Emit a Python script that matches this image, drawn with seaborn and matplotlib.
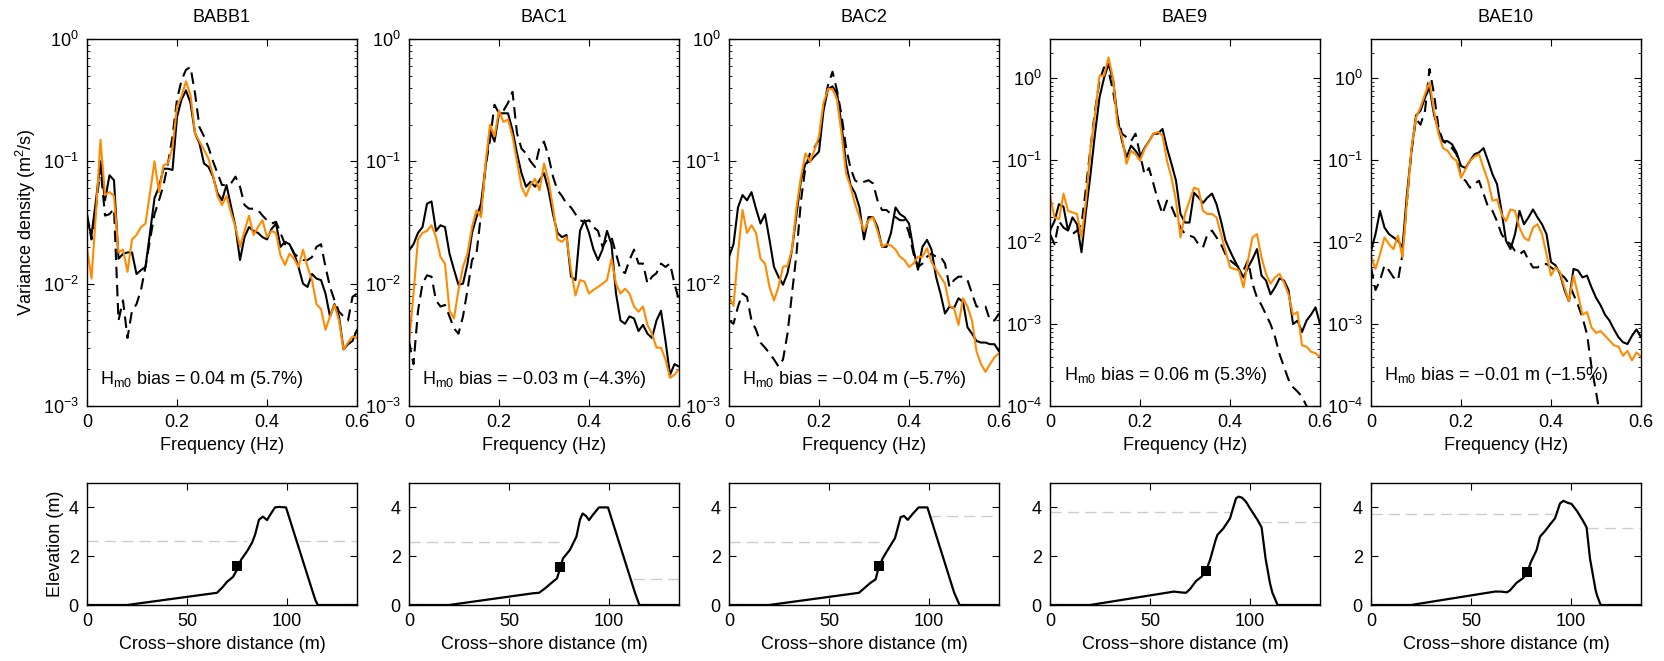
import numpy as np
import pandas as pd
import matplotlib
matplotlib.use('Agg')
import matplotlib.pyplot as plt
import seaborn as sns
from matplotlib.ticker import LogLocator, NullFormatter, FixedLocator, FixedFormatter

# ---------------- data ----------------
STATIONS = ["BABB1", "BAC1", "BAC2", "BAE9", "BAE10"]
FREQ = [round(i * 0.01, 2) for i in range(61)]

BABB1_OBS = [0.033,0.025,0.048,0.10,0.048,0.077,0.07,0.016,0.0175,0.018,0.018,
             0.012,0.0129,0.0137,0.026,0.05,0.062,0.087,0.087,0.085,0.23,
             0.32,0.38,0.30,0.17,0.14,0.096,0.09,0.075,0.055,0.048,
             0.064,0.043,0.029,0.0156,0.024,0.029,0.027,0.026,0.024,0.023,
             0.028,0.031,0.020,0.022,0.021,0.0178,0.0137,0.010,0.0094,0.012,
             0.011,0.0107,0.0083,0.0054,0.0068,0.0054,0.0029,0.0032,0.0034,0.0042]
BABB1_MOD = [0.0194,0.011,0.038,0.15,0.053,0.056,0.052,0.018,0.019,0.0125,0.023,
             0.025,0.029,0.031,0.055,0.10,0.056,0.093,0.096,0.13,0.28,
             0.34,0.45,0.35,0.17,0.145,0.124,0.105,0.077,0.052,0.044,
             0.052,0.038,0.029,0.020,0.027,0.036,0.025,0.029,0.033,0.024,
             0.027,0.026,0.017,0.0142,0.0176,0.016,0.0137,0.019,0.0137,0.0107,
             0.0068,0.0062,0.0042,0.0054,0.0067,0.005,0.0029,0.0033,0.0037,0.0036]
BABB1_OFF = [0.037,0.023,0.042,0.09,0.036,0.037,0.041,0.005,0.0073,0.0036,0.006,
             0.0068,0.0089,0.0137,0.0228,0.037,0.048,0.064,0.096,0.16,0.32,
             0.46,0.56,0.59,0.36,0.19,0.16,0.13,0.10,0.08,0.064,
             0.064,0.066,0.075,0.062,0.044,0.041,0.041,0.04,0.036,0.033,
             0.031,0.032,0.026,0.021,0.021,0.0176,0.0165,0.0156,0.0156,0.0165,
             0.020,0.021,0.0137,0.0094,0.0073,0.0059,0.0054,0.005,0.0078,0.0083]

BAC1_OBS = [0.0187,0.021,0.026,0.029,0.045,0.047,0.027,0.03,0.029,0.0176,0.013,
            0.0098,0.01,0.0146,0.026,0.035,0.045,0.09,0.18,0.145,0.247,
            0.247,0.247,0.18,0.116,0.08,0.062,0.068,0.062,0.07,0.08,
            0.058,0.037,0.026,0.024,0.025,0.0114,0.0107,0.027,0.033,0.026,
            0.019,0.0156,0.019,0.027,0.021,0.0083,0.005,0.0047,0.0054,0.0052,
            0.0041,0.0046,0.0039,0.0036,0.005,0.006,0.0034,0.0018,0.0022,0.0021]
BAC1_MOD = [0.0032,0.0083,0.023,0.026,0.027,0.030,0.024,0.0165,0.0146,0.006,0.0052,
            0.0089,0.0137,0.0176,0.029,0.040,0.035,0.096,0.20,0.16,0.26,
            0.21,0.22,0.16,0.10,0.062,0.052,0.064,0.072,0.058,0.096,
            0.07,0.042,0.023,0.022,0.024,0.013,0.008,0.0107,0.0104,0.0083,
            0.0089,0.0094,0.01,0.0107,0.016,0.01,0.0083,0.0091,0.0083,0.0065,
            0.0059,0.0065,0.0046,0.0039,0.003,0.003,0.0024,0.0017,0.0018,0.002]
BAC1_OFF = [0.0034,0.0022,0.006,0.01,0.0117,0.0114,0.0073,0.0065,0.0067,0.0054,0.0043,
            0.0039,0.0054,0.0089,0.0156,0.0176,0.037,0.09,0.15,0.29,0.247,
            0.26,0.30,0.37,0.17,0.127,0.116,0.10,0.09,0.13,0.145,
            0.11,0.075,0.058,0.052,0.045,0.042,0.037,0.033,0.032,0.033,
            0.029,0.027,0.020,0.023,0.024,0.0176,0.013,0.0122,0.0156,0.019,
            0.0146,0.0146,0.01,0.0114,0.0122,0.0146,0.0137,0.0146,0.01,0.0073]

BAC2_OBS = [0.0166,0.021,0.042,0.053,0.048,0.056,0.041,0.031,0.037,0.0228,0.0137,
            0.0114,0.0098,0.0122,0.019,0.037,0.07,0.096,0.10,0.11,0.12,
            0.26,0.39,0.41,0.36,0.2,0.096,0.064,0.055,0.042,0.023,
            0.035,0.035,0.029,0.020,0.020,0.026,0.042,0.037,0.035,0.031,
            0.019,0.013,0.020,0.0228,0.019,0.0114,0.0083,0.0057,0.0065,0.0063,
            0.0076,0.0071,0.0044,0.0039,0.0034,0.0033,0.0033,0.0032,0.0032,0.0028]
BAC2_MOD = [0.0078,0.0066,0.0176,0.04,0.026,0.03,0.026,0.016,0.0146,0.0094,0.0073,
            0.0094,0.0137,0.014,0.019,0.042,0.075,0.116,0.10,0.124,0.16,
            0.30,0.39,0.39,0.32,0.17,0.08,0.062,0.045,0.035,0.027,
            0.033,0.035,0.027,0.020,0.021,0.0205,0.019,0.0166,0.0156,0.0137,
            0.0146,0.0166,0.0166,0.0195,0.015,0.013,0.0114,0.01,0.0066,0.0063,
            0.0046,0.0076,0.0065,0.005,0.0028,0.0022,0.0019,0.0022,0.0025,0.0027]
BAC2_OFF = [0.005,0.0047,0.0065,0.0083,0.0078,0.005,0.0042,0.0033,0.003,0.0027,0.0024,
            0.0021,0.0024,0.0039,0.0083,0.0176,0.048,0.09,0.116,0.13,0.15,
            0.28,0.42,0.54,0.38,0.24,0.13,0.088,0.07,0.066,0.068,
            0.07,0.066,0.048,0.04,0.04,0.037,0.035,0.033,0.033,0.026,
            0.0176,0.0137,0.0146,0.0166,0.0176,0.0166,0.0166,0.0146,0.0094,0.0107,
            0.0114,0.0114,0.0107,0.0083,0.0065,0.0065,0.0065,0.005,0.005,0.0057]

BAE9_OBS = [0.0138,0.018,0.029,0.027,0.0138,0.02,0.0165,0.0075,0.024,0.067,0.21,
            0.58,1.0,1.48,0.97,0.33,0.17,0.108,0.15,0.13,0.108,
            0.14,0.17,0.21,0.21,0.24,0.14,0.09,0.056,0.022,0.0173,
            0.0173,0.04,0.035,0.03,0.035,0.039,0.029,0.018,0.0104,0.0078,
            0.006,0.0047,0.0037,0.0049,0.0062,0.0082,0.0039,0.0034,0.0023,0.0028,
            0.0036,0.0034,0.0026,0.001,0.0011,0.0008,0.0011,0.0013,0.0016,0.001]
BAE9_MOD = [0.037,0.02,0.019,0.039,0.024,0.023,0.022,0.0114,0.032,0.14,0.36,
            1.07,1.07,1.79,1.0,0.27,0.19,0.09,0.13,0.118,0.098,
            0.136,0.17,0.21,0.22,0.2,0.098,0.061,0.032,0.0114,0.022,
            0.032,0.046,0.044,0.024,0.022,0.022,0.02,0.0125,0.0078,0.0049,
            0.0047,0.0045,0.0028,0.006,0.0114,0.0125,0.0065,0.0041,0.0031,0.0037,
            0.0041,0.0032,0.0023,0.0013,0.0014,0.00055,0.00053,0.00046,0.00044,0.0004]
BAE9_OFF = [0.0125,0.0094,0.018,0.015,0.0138,0.0125,0.0138,0.0165,0.046,0.14,0.4,
            0.93,1.35,1.23,0.7,0.33,0.21,0.19,0.17,0.21,0.118,
            0.067,0.08,0.051,0.032,0.022,0.032,0.027,0.02,0.015,0.0125,
            0.012,0.0114,0.0094,0.0086,0.0125,0.0138,0.0114,0.0094,0.0071,0.006,
            0.0054,0.0049,0.0045,0.006,0.0031,0.0021,0.0017,0.0013,0.001,0.0007,
            0.00043,0.0003,0.00021,0.00017,0.00015,0.00013,0.0001,0.00008,0.00006,0.00005]

BAE10_OBS = [0.0078,0.0125,0.024,0.015,0.0125,0.0114,0.0104,0.0086,0.039,0.13,0.35,
             0.4,0.58,0.77,0.36,0.23,0.17,0.17,0.156,0.124,0.085,
             0.08,0.098,0.118,0.124,0.14,0.098,0.067,0.051,0.024,0.0104,
             0.0082,0.0125,0.024,0.0165,0.02,0.025,0.02,0.0165,0.0125,0.0057,
             0.0052,0.0041,0.0026,0.0019,0.0047,0.0045,0.0037,0.0039,0.0028,0.0021,
             0.0017,0.0013,0.0011,0.00086,0.00069,0.0006,0.00057,0.00072,0.00086,0.00069]
BAE10_MOD = [0.0068,0.0047,0.0071,0.0114,0.0094,0.0082,0.012,0.0065,0.032,0.14,0.33,
             0.44,0.64,0.89,0.4,0.21,0.14,0.13,0.108,0.098,0.061,
             0.077,0.098,0.11,0.118,0.08,0.056,0.032,0.033,0.022,0.018,
             0.025,0.024,0.015,0.0114,0.0104,0.015,0.0165,0.0125,0.0071,0.0039,
             0.0049,0.0043,0.0028,0.0019,0.0039,0.0023,0.0013,0.0014,0.00091,0.00078,
             0.00082,0.00072,0.00063,0.00055,0.00053,0.00041,0.00047,0.00036,0.00045,0.0004]
BAE10_OFF = [0.0049,0.0026,0.0034,0.0052,0.0045,0.0037,0.0034,0.0071,0.032,0.13,0.32,
             0.27,0.4,1.29,0.64,0.25,0.17,0.156,0.14,0.118,0.061,
             0.056,0.046,0.051,0.056,0.039,0.027,0.024,0.018,0.0125,0.0104,
             0.0094,0.0078,0.0071,0.0078,0.006,0.0049,0.0049,0.0054,0.0054,0.0049,
             0.0045,0.0041,0.0037,0.0031,0.0023,0.0017,0.0012,0.00075,0.0003,0.00015,
             0.00007]

OBS = [BABB1_OBS, BAC1_OBS, BAC2_OBS, BAE9_OBS, BAE10_OBS]
MOD = [BABB1_MOD, BAC1_MOD, BAC2_MOD, BAE9_MOD, BAE10_MOD]
OFF = [BABB1_OFF, BAC1_OFF, BAC2_OFF, BAE9_OFF, BAE10_OFF]
YMIN = [1e-3, 1e-3, 1e-3, 1e-4, 1e-4]
YMAX = [1.0, 1.0, 1.0, 3.0, 3.0]
BIAS = ["0.04 m (5.7%)", "\u22120.03 m (\u22124.3%)", "\u22120.04 m (\u22125.7%)",
        "0.06 m (5.3%)", "\u22120.01 m (\u22121.5%)"]

PROF_X = [
    [0, 20, 65, 68, 70, 73, 75, 77, 80, 82.5, 84, 86, 88, 90, 92, 94, 96, 99.5, 113, 114.2, 115.4, 135],
    [0, 20, 62, 65, 68, 72, 74, 75.5, 77, 80.4, 83.7, 85.5, 86.8, 88.5, 90, 92, 95, 99.5, 113, 115.2, 135],
    [0, 20, 65, 70.6, 73.3, 74.7, 76.9, 79.6, 83, 84.5, 85.8, 87.5, 89.4, 92, 94.8, 99.2, 112.6, 115.3, 135],
    [0, 20, 62, 65, 68, 70, 73, 75.8, 78, 80, 82.8, 83.7, 86.7, 90, 93, 94.2, 96, 98, 100, 103.8, 105.8,
     107.8, 110, 111.2, 113.8, 135],
    [0, 20, 62, 65, 68, 69.5, 72.8, 76, 78, 80, 82.8, 84.5, 86.7, 90, 92, 94.5, 96.2, 98, 100.3, 103, 105.8,
     107.8, 109.5, 112.3, 113, 114.8, 135],
]
PROF_Z = [
    [0, 0, 0.5, 0.75, 0.95, 1.15, 1.45, 1.85, 2.2, 2.55, 2.87, 3.5, 3.62, 3.48, 3.75, 4.0, 4.02, 4.0, 0.5, 0.2, 0, 0],
    [0, 0, 0.48, 0.5, 0.68, 0.96, 1.09, 1.5, 1.91, 2.25, 2.8, 3.5, 3.75, 3.65, 3.48, 3.7, 4.0, 4.0, 0.5, 0, 0],
    [0, 0, 0.5, 0.9, 1.05, 1.5, 1.92, 2.29, 2.74, 3.2, 3.6, 3.65, 3.49, 3.75, 4.0, 4.0, 0.5, 0, 0],
    [0, 0, 0.55, 0.52, 0.5, 0.65, 0.98, 1.16, 1.4, 1.84, 2.66, 2.87, 3.14, 3.55, 4.37, 4.44, 4.4, 4.23, 3.96,
     3.48, 3.18, 1.9, 0.89, 0.5, 0, 0],
    [0, 0, 0.55, 0.55, 0.52, 0.6, 0.91, 1.1, 1.3, 1.77, 2.25, 2.8, 3.0, 3.35, 3.55, 4.16, 4.27, 4.2, 4.14,
     3.85, 3.48, 3.18, 1.9, 0.61, 0.4, 0, 0],
]
SENSOR_X = [75.0, 75.4, 74.8, 78.0, 78.2]
SENSOR_Z = [1.58, 1.57, 1.58, 1.41, 1.37]
WL_LEFT_Z = [2.62, 2.59, 2.59, 3.82, 3.71]
WL_LEFT_END = [80, 78, 77, 91, 91]
WL_RIGHT_Z = [2.62, 1.06, 3.63, 3.39, 3.17]
WL_RIGHT_START = [106, 112, 100, 105, 108]

# ---------------- style ----------------
sns.set_style('ticks')
plt.rcParams['font.family'] = ['Liberation Sans', 'DejaVu Sans']
plt.rcParams['mathtext.fontset'] = 'custom'
plt.rcParams['mathtext.rm'] = 'Liberation Sans'
plt.rcParams['mathtext.it'] = 'Liberation Sans:italic'
plt.rcParams['mathtext.bf'] = 'Liberation Sans:bold'
plt.rcParams['axes.edgecolor'] = 'black'
plt.rcParams['axes.linewidth'] = 1.0
plt.rcParams['xtick.color'] = 'black'
plt.rcParams['ytick.color'] = 'black'
plt.rcParams['text.color'] = 'black'
plt.rcParams['axes.labelcolor'] = 'black'

FS = 13
ORANGE = '#FF8A00'
DASH = (0, (5.5, 3.2))

fig = plt.figure(figsize=(16.64, 6.61), dpi=100)
W, H = 1664.0, 661.0
lefts = [87, 409, 729, 1050, 1371]
aw = 270

for i, st in enumerate(STATIONS):
    # ---- spectra ----
    ax = fig.add_axes([lefts[i] / W, 1 - 406 / H, aw / W, 367 / H])
    ax.set_yscale('log')
    off = OFF[i]
    sns.lineplot(x=FREQ[:len(off)], y=off, ax=ax, color='black', lw=1.5,
                 linestyle=DASH, estimator=None, sort=False)
    sns.lineplot(x=FREQ[:len(OBS[i])], y=OBS[i], ax=ax, color='black', lw=1.5,
                 estimator=None, sort=False)
    sns.lineplot(x=FREQ[:len(MOD[i])], y=MOD[i], ax=ax, color=ORANGE, lw=1.5,
                 estimator=None, sort=False)
    ax.set_xlim(0, 0.6)
    ax.set_ylim(YMIN[i], YMAX[i])
    ax.xaxis.set_major_locator(FixedLocator([0, 0.2, 0.4, 0.6]))
    ax.xaxis.set_major_formatter(FixedFormatter(['0', '0.2', '0.4', '0.6']))
    ax.yaxis.set_major_locator(LogLocator(base=10, numticks=10))
    ax.yaxis.set_minor_locator(LogLocator(base=10, subs=np.arange(2, 10), numticks=20))
    ax.yaxis.set_minor_formatter(NullFormatter())
    ax.tick_params(which='both', direction='in', top=True, right=True, labelsize=FS, pad=6)
    ax.tick_params(which='major', length=5, width=0.8)
    ax.tick_params(which='minor', length=2.5, width=0.6)
    ax.set_xlabel('Frequency (Hz)', fontsize=FS, labelpad=4)
    ax.set_ylabel('')
    if i == 0:
        ax.set_ylabel('Variance density (m$^2$/s)', fontsize=FS, labelpad=3)
    ax.set_title(st, fontsize=FS, pad=12)
    ty = 0.072 if YMIN[i] == 1e-3 else 0.082
    ax.text(0.05, ty, r'H$_{\mathrm{m0}}$ bias = ' + BIAS[i], transform=ax.transAxes,
            fontsize=FS, va='center', ha='left')
    for s in ax.spines.values():
        s.set_visible(True)
        s.set_color('black')

    # ---- profile ----
    bx = fig.add_axes([lefts[i] / W, 1 - 605 / H, aw / W, 122 / H])
    sns.lineplot(x=[0, WL_LEFT_END[i]], y=[WL_LEFT_Z[i]] * 2, ax=bx, color='0.8', lw=1.0,
                 linestyle=(0, (8, 4.5)), estimator=None, sort=False)
    sns.lineplot(x=[WL_RIGHT_START[i], 135], y=[WL_RIGHT_Z[i]] * 2, ax=bx, color='0.8', lw=1.0,
                 linestyle=(0, (8, 4.5)), estimator=None, sort=False)
    sns.lineplot(x=PROF_X[i], y=PROF_Z[i], ax=bx, color='black', lw=1.6,
                 estimator=None, sort=False)
    sns.scatterplot(x=[SENSOR_X[i]], y=[SENSOR_Z[i]], ax=bx, color='black', marker='s',
                    s=60, edgecolor='black', linewidth=0, zorder=5)
    bx.set_xlim(0, 135)
    bx.set_ylim(0, 5)
    bx.set_xticks([0, 50, 100])
    bx.set_yticks([0, 2, 4])
    bx.tick_params(which='both', direction='in', top=True, right=True, labelsize=FS, pad=6,
                   length=5, width=0.8)
    bx.set_xlabel('Cross\u2212shore distance (m)', fontsize=FS, labelpad=4)
    bx.set_ylabel('')
    if i == 0:
        bx.set_ylabel('Elevation (m)', fontsize=FS, labelpad=3)
    for s in bx.spines.values():
        s.set_visible(True)
        s.set_color('black')

fig.savefig('out.png', dpi=100)
